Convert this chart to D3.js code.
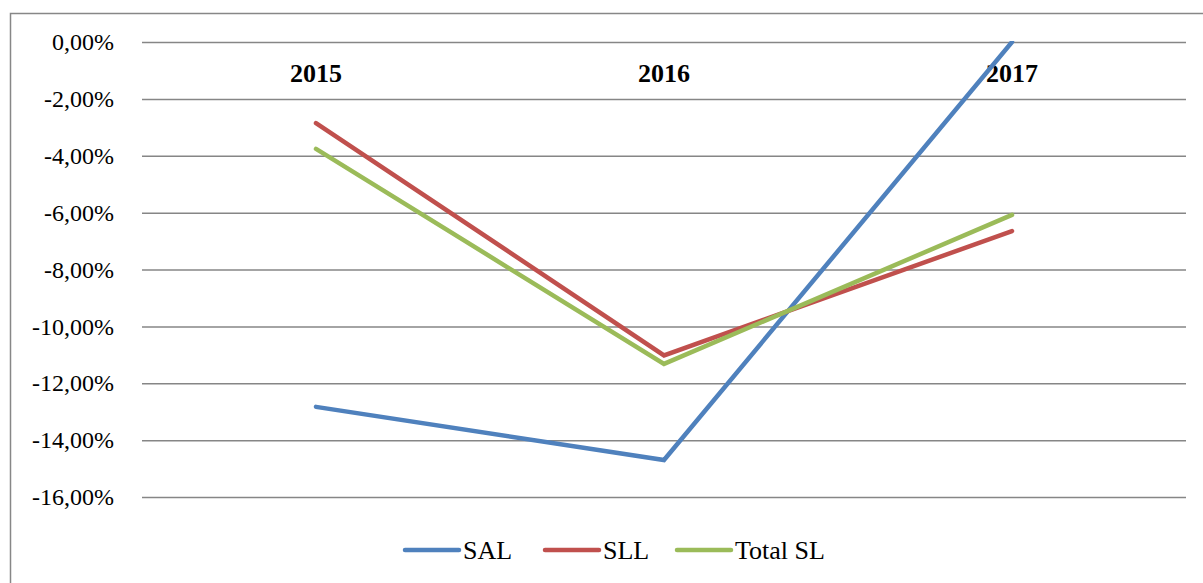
<!DOCTYPE html>
<meta charset="utf-8">
<script src="https://d3js.org/d3.v7.min.js"></script>
<body style="margin:0; background:#fff">
<script>
var years = ["2015", "2016", "2017"],
	seriesNames = ["SAL", "SLL", "Total SL"],
	colors = ["#4F81BD", "#C0504D", "#9BBB59"],
	salValues = [-12.83, -14.70, 0.0],
	sllValues = [-2.85, -11.02, -6.65],
	totalValues = [-3.76, -11.32, -6.08],
	yTicks = [0, -2, -4, -6, -8, -10, -12, -14, -16];

var w = 1203, h = 583,
	plotLeft = 142, plotRight = 1186,
	plotTop = 42, plotBottom = 497,
	serifFont = "Times New Roman";

var svg = d3.select("body").append("svg")
	.attr("width", w)
	.attr("height", h)
	.attr("font-family", serifFont);

// outer frame
svg.append("rect")
	.attr("x", 10.5).attr("y", 13.5)
	.attr("width", 1200).attr("height", 600)
	.style("fill", "none")
	.style("stroke", "#878787")
	.style("stroke-width", 1.5);

var x = d3.scaleBand().domain(years).range([plotLeft, plotRight]);
var y = d3.scaleLinear().domain([-16, 0]).range([plotBottom, plotTop]);

// gridlines
var yAxis = d3.axisLeft(y)
	.tickValues(yTicks)
	.tickSize(-(plotRight - plotLeft))
	.tickFormat("");

var gy = svg.append("g")
	.attr("transform", "translate(" + plotLeft + ",0)")
	.call(yAxis);
gy.select(".domain").remove();
gy.selectAll("line").style("stroke", "#868686").style("stroke-width", 1.5);

// tick labels
svg.selectAll(".tickLabel")
	.data(yTicks)
	.enter()
	.append("text")
	.attr("class", "tickLabel")
	.attr("x", plotLeft - 28)
	.attr("y", function (d) { return y(d); })
	.attr("dy", "0.34em")
	.attr("font-family", serifFont)
	.attr("font-size", 24)
	.attr("text-anchor", "end")
	.text(function (d) { return d3.format(".2f")(d).replace(".", ",").replace("−", "-") + "%"; });

// category labels at top
svg.selectAll(".yearLabel")
	.data(years)
	.enter()
	.append("text")
	.attr("class", "yearLabel")
	.attr("x", function (d) { return x(d) + x.bandwidth() / 2; })
	.attr("y", 82)
	.attr("font-family", serifFont)
	.attr("font-size", 26)
	.attr("font-weight", "bold")
	.attr("text-anchor", "middle")
	.text(function (d) { return d; });

var series = [salValues, sllValues, totalValues];

svg.append("clipPath").attr("id", "plotClip")
	.append("rect")
	.attr("x", plotLeft).attr("y", plotTop - 1)
	.attr("width", plotRight - plotLeft).attr("height", plotBottom - plotTop + 10);

var line = d3.line()
	.x(function (d, i) { return x(years[i]) + x.bandwidth() / 2; })
	.y(function (d) { return y(d); });

svg.append("g").attr("clip-path", "url(#plotClip)")
	.selectAll("path")
	.data(series)
	.enter()
	.append("path")
	.attr("d", line)
	.style("fill", "none")
	.style("stroke", function (d, i) { return colors[i]; })
	.style("stroke-width", 4.5)
	.style("stroke-linejoin", "miter")
	.style("stroke-linecap", "round");

// legend
var legendX = [405, 545, 677];
var legend = svg.selectAll(".legend")
	.data(seriesNames)
	.enter()
	.append("g")
	.attr("class", "legend")
	.attr("transform", function (d, i) { return "translate(" + legendX[i] + ",550)"; });

legend.append("line")
	.attr("x1", 0).attr("x2", 54)
	.attr("y1", 0).attr("y2", 0)
	.style("stroke", function (d, i) { return colors[i]; })
	.style("stroke-width", 4.5)
	.style("stroke-linecap", "round");

legend.append("text")
	.attr("x", 58)
	.attr("y", 8.5)
	.attr("font-family", serifFont)
	.attr("font-size", 26)
	.text(function (d) { return d; });
</script>
</body>
